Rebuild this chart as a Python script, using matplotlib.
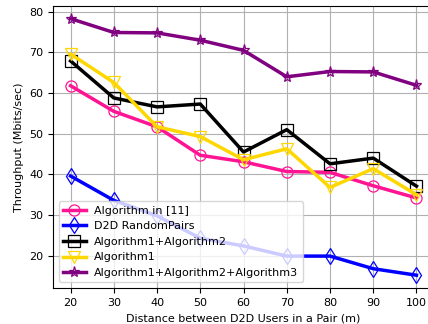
import matplotlib
matplotlib.use("Agg")
import matplotlib.pyplot as plt

distances = [20, 30, 40, 50, 60, 70, 80, 90, 100]
alg11 = [61.8, 55.5, 51.7, 44.7, 43.1, 40.7, 40.5, 37.2, 34.2]
random_pairs = [39.6, 33.6, 29.8, 24.3, 22.4, 19.9, 19.9, 16.8, 15.2]
alg12 = [67.9, 58.8, 56.6, 57.3, 45.5, 51.0, 42.6, 44.0, 37.1]
alg1 = [69.6, 62.6, 51.7, 49.3, 43.6, 46.3, 36.8, 41.4, 35.0]
alg123 = [78.3, 74.9, 74.8, 73.0, 70.5, 64.0, 65.3, 65.2, 61.9]

fig = plt.figure(figsize=(4.28, 3.24), dpi=100)
ax = fig.add_axes([0.1245, 0.111, 0.889, 0.871])

style = dict(linewidth=2.5, markersize=8, markerfacecolor="none", markeredgewidth=0.9)
ax.plot(distances, alg11, color="#ff1493", marker="o", label="Algorithm in [11]", **style)
ax.plot(distances, random_pairs, color="blue", marker="d", label="D2D RandomPairs", **style)
ax.plot(distances, alg12, color="black", marker="s", label="Algorithm1+Algorithm2", **style)
ax.plot(distances, alg1, color="#ffd700", marker="v", label="Algorithm1", **style)
ax.plot(distances, alg123, color="purple", marker="*", label="Algorithm1+Algorithm2+Algorithm3", **style)

ax.set_xticks(distances)
ax.tick_params(labelsize=8)
ax.set_xlabel("Distance between D2D Users in a Pair (m)", fontsize=8)
ax.set_ylabel("Throughput (Mbits/sec)", fontsize=8)
ax.grid(True, color="#b0b0b0")
ax.legend(loc="lower left", fontsize=8)

fig.savefig("out.png", dpi=100)
